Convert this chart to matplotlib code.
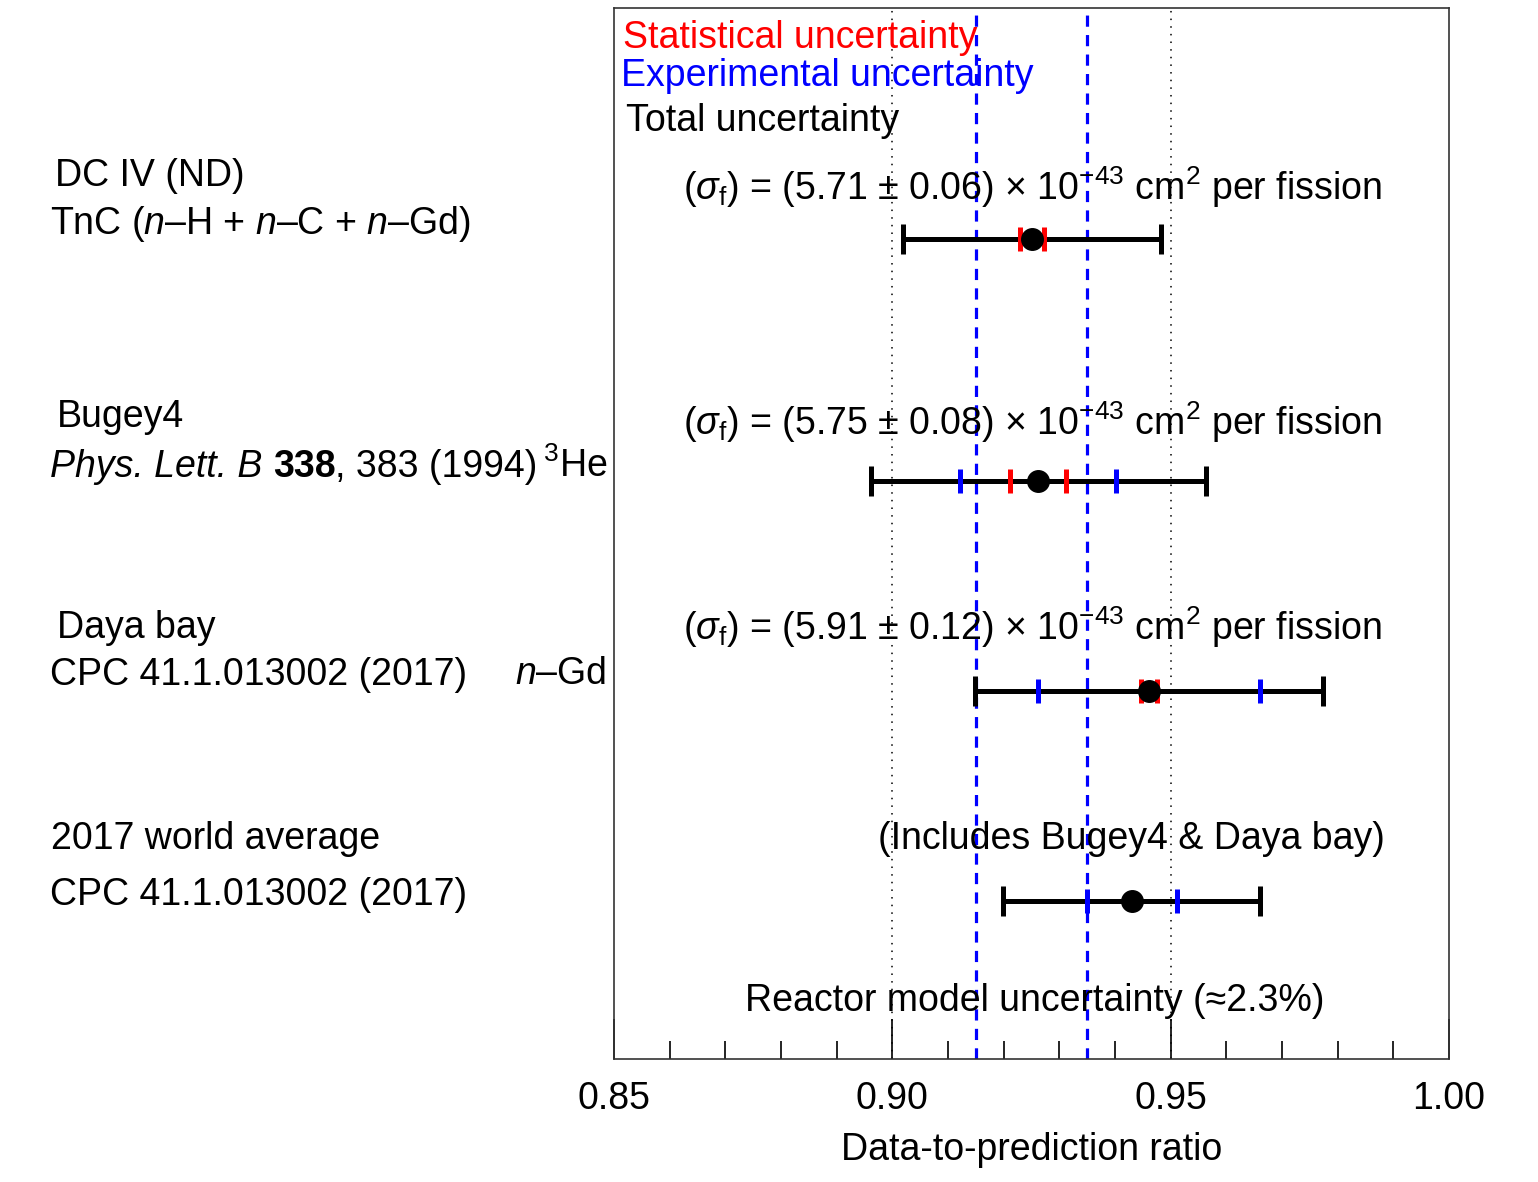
import matplotlib
matplotlib.use("Agg")
import matplotlib.pyplot as plt

plt.rcParams["font.family"] = ["Liberation Sans", "DejaVu Sans"]
plt.rcParams["mathtext.fontset"] = "custom"
plt.rcParams["mathtext.rm"] = "Liberation Sans"
plt.rcParams["mathtext.it"] = "Liberation Sans:italic"
plt.rcParams["mathtext.bf"] = "Liberation Sans:bold"

# Measurements (data-to-prediction ratio)
experiments = ["DC IV (ND)", "Bugey4", "Daya bay", "2017 world average"]
ratio = [0.9251, 0.9262, 0.9461, 0.9430]
total_unc = [0.0231, 0.0301, 0.0312, 0.0231]
exp_unc = [None, 0.0140, 0.0199, 0.0081]
stat_unc = [0.0022, 0.0050, 0.0015, None]
row_y = [7.8, 5.5, 3.5, 1.5]

sigma_f = ["5.71", "5.75", "5.91"]
sigma_err = ["0.06", "0.08", "0.12"]

model_band = [0.915, 0.935]      # reactor model uncertainty
ref_lines = [0.90, 0.95]

W, H = 1538, 1182
FS = 27

fig = plt.figure(figsize=(W / 100, H / 100), dpi=100)
ax = fig.add_axes([614 / W, 1 - 1059 / H, (1449 - 614) / W, (1059 - 8) / H])
ax.set_xlim(0.85, 1.00)
ax.set_ylim(0, 10)

for x in ref_lines:
    ax.axvline(x, color="black", lw=1.1, ls=(0, (1, 4.0)), zorder=1)
for x in model_band:
    ax.axvline(x, color="blue", lw=2.3, ls=(0, (3.5, 2.6)), zorder=1)

for r, t, e, s, y in zip(ratio, total_unc, exp_unc, stat_unc, row_y):
    ax.errorbar([r], [y], xerr=[t], fmt="none", ecolor="black",
                elinewidth=3.6, capsize=11, capthick=3.6, zorder=3)
    if e is not None:
        ax.plot([r - e, r + e], [y, y], ls="none", marker="|", ms=17,
                mew=3.6, color="blue", zorder=4)
    if s is not None:
        ax.plot([r - s, r + s], [y, y], ls="none", marker="|", ms=17,
                mew=3.6, color="red", zorder=5)
    ax.plot([r], [y], "o", color="black", ms=15.5, zorder=6)

ax.set_yticks([])
ax.set_xticks([0.85, 0.90, 0.95, 1.00])
ax.set_xticklabels(["0.85", "0.90", "0.95", "1.00"])
ax.set_xticks([0.85 + 0.01 * i for i in range(16)], minor=True)
ax.tick_params(axis="x", which="major", direction="in", length=29, width=1.2,
               labelsize=FS, pad=16)
ax.tick_params(axis="x", which="minor", direction="in", length=13, width=1.2)
ax.set_xlabel("Data-to-prediction ratio", fontsize=FS, labelpad=11)
for sp in ax.spines.values():
    sp.set_linewidth(1.2)
    sp.set_color("#333333")

renderer = fig.canvas.get_renderer()


def put(px, py, s, **kw):
    return fig.text(px / W, 1 - py / H, s, fontsize=FS, va="baseline",
                    ha="left", **kw)


def put_pieces(px, py, pieces):
    """Write consecutive text pieces with different styles on one baseline."""
    x = px
    for s, kw in pieces:
        t = put(x, py, s, **kw)
        x += t.get_window_extent(renderer).width


# Legend-like labels
put(623, 48, "Statistical uncertainty", color="red")
put(621, 86, "Experimental uncertainty", color="blue")
put(626, 131, "Total uncertainty", color="black")

# Cross-section annotations
for (v, err), py in zip(zip(sigma_f, sigma_err), [200, 435, 640]):
    put(683, py, r"$(\sigma_{\rm f})$ = (" + v + r" $\pm$ " + err +
        r") $\times$ 10$^{-43}$ cm$^{2}$ per fission")

put(878, 849, "(Includes Bugey4 & Daya bay)")
put(745, 1011, "Reactor model uncertainty (≈2.3%)")

# Row labels
put(55, 186, "DC IV (ND)")
put(50, 234, r"TnC ($n$–H + $n$–C + $n$–Gd)")
put(57, 427, "Bugey4")
put_pieces(50, 477, [("Phys. Lett. B ", dict(style="italic")),
                     ("338", dict(weight="bold")),
                     (", 383 (1994)", {}),
                     (r"$\,^{3}$He", {})])
put(57, 638, "Daya bay")
put(50, 685, "CPC 41.1.013002 (2017)")
put(515, 684, r"$n$–Gd")
put(51, 849, "2017 world average")
put(50, 905, "CPC 41.1.013002 (2017)")

fig.savefig("out.png", dpi=100)
